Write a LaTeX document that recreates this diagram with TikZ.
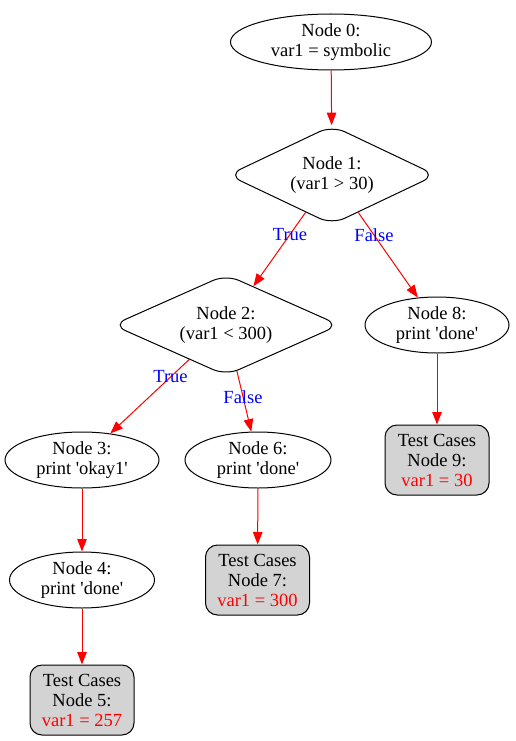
\documentclass[tikz,border=0pt]{standalone}
\usepackage{fontspec}
\setmainfont{Liberation Serif}
\usetikzlibrary{shapes.geometric,arrows.meta}
\definecolor{leafgray}{RGB}{211,211,211}
\newcommand{\sq}{\textquotesingle}

\begin{document}
\begin{tikzpicture}[x=1pt,y=-1pt,
  every node/.style={font=\fontsize{18.5}{20}\selectfont, align=center},
  state/.style={ellipse, draw, line width=1pt, inner sep=0pt, minimum height=56pt},
  test/.style={diamond, draw, line width=1pt, rounded corners=14pt, inner sep=0pt, shape aspect=2.1},
  leaf/.style={rectangle, draw, line width=1pt, fill=leafgray, rounded corners=12pt,
               minimum width=104pt, minimum height=70pt, inner sep=0pt},
  flow/.style={draw=red, line width=1pt, -{Triangle[length=12.5pt,width=9.5pt]}},
  branch/.style={text=blue, inner sep=0pt}
]
\useasboundingbox (0,0) rectangle (515,741);

% decision tree nodes
\node[state, minimum width=201pt] (n0) at (331,42) {Node 0:\\var1 = symbolic};
\node[test, minimum width=208pt, minimum height=99pt] (n1) at (332,175) {Node 1:\\(var1 > 30)};
\node[test, minimum width=227pt, minimum height=101pt] (n2) at (226,325) {Node 2:\\(var1 < 300)};
\node[state, minimum width=144pt] (n8) at (437,325) {Node 8:\\print \sq done\sq};
\node[state, minimum width=154pt] (n3) at (82,460) {Node 3:\\print \sq okay1\sq};
\node[state, minimum width=146pt] (n6) at (258,460) {Node 6:\\print \sq done\sq};
\node[state, minimum width=145pt] (n4) at (82,580) {Node 4:\\print \sq done\sq};

% test case leaves
\node[leaf] (n9) at (437,460) {Test Cases\\Node 9:\\\textcolor{red}{var1 = 30}};
\node[leaf] (n7) at (257.5,580) {Test Cases\\Node 7:\\\textcolor{red}{var1 = 300}};
\node[leaf] (n5) at (82,700) {Test Cases\\Node 5:\\\textcolor{red}{var1 = 257}};

% control flow
\draw[flow] (n0) -- (n1);
\draw[flow] (n1) -- (n2);
\draw[flow] (n1) -- (n8);
\draw[flow] (n2) -- (n3);
\draw[flow] (n2) -- (n6);
\draw[flow] (n8) -- (n9);
\draw[flow] (n3) -- (n4);
\draw[flow] (n6) -- (n7);
\draw[flow] (n4) -- (n5);

% branch labels
\node[branch] (l1t) at (290,235) {True};
\node[branch] (l1f) at (374,235) {False};
\node[branch] (l2t) at (170.5,377) {True};
\node[branch] (l2f) at (243,397) {False};
\end{tikzpicture}
\end{document}
